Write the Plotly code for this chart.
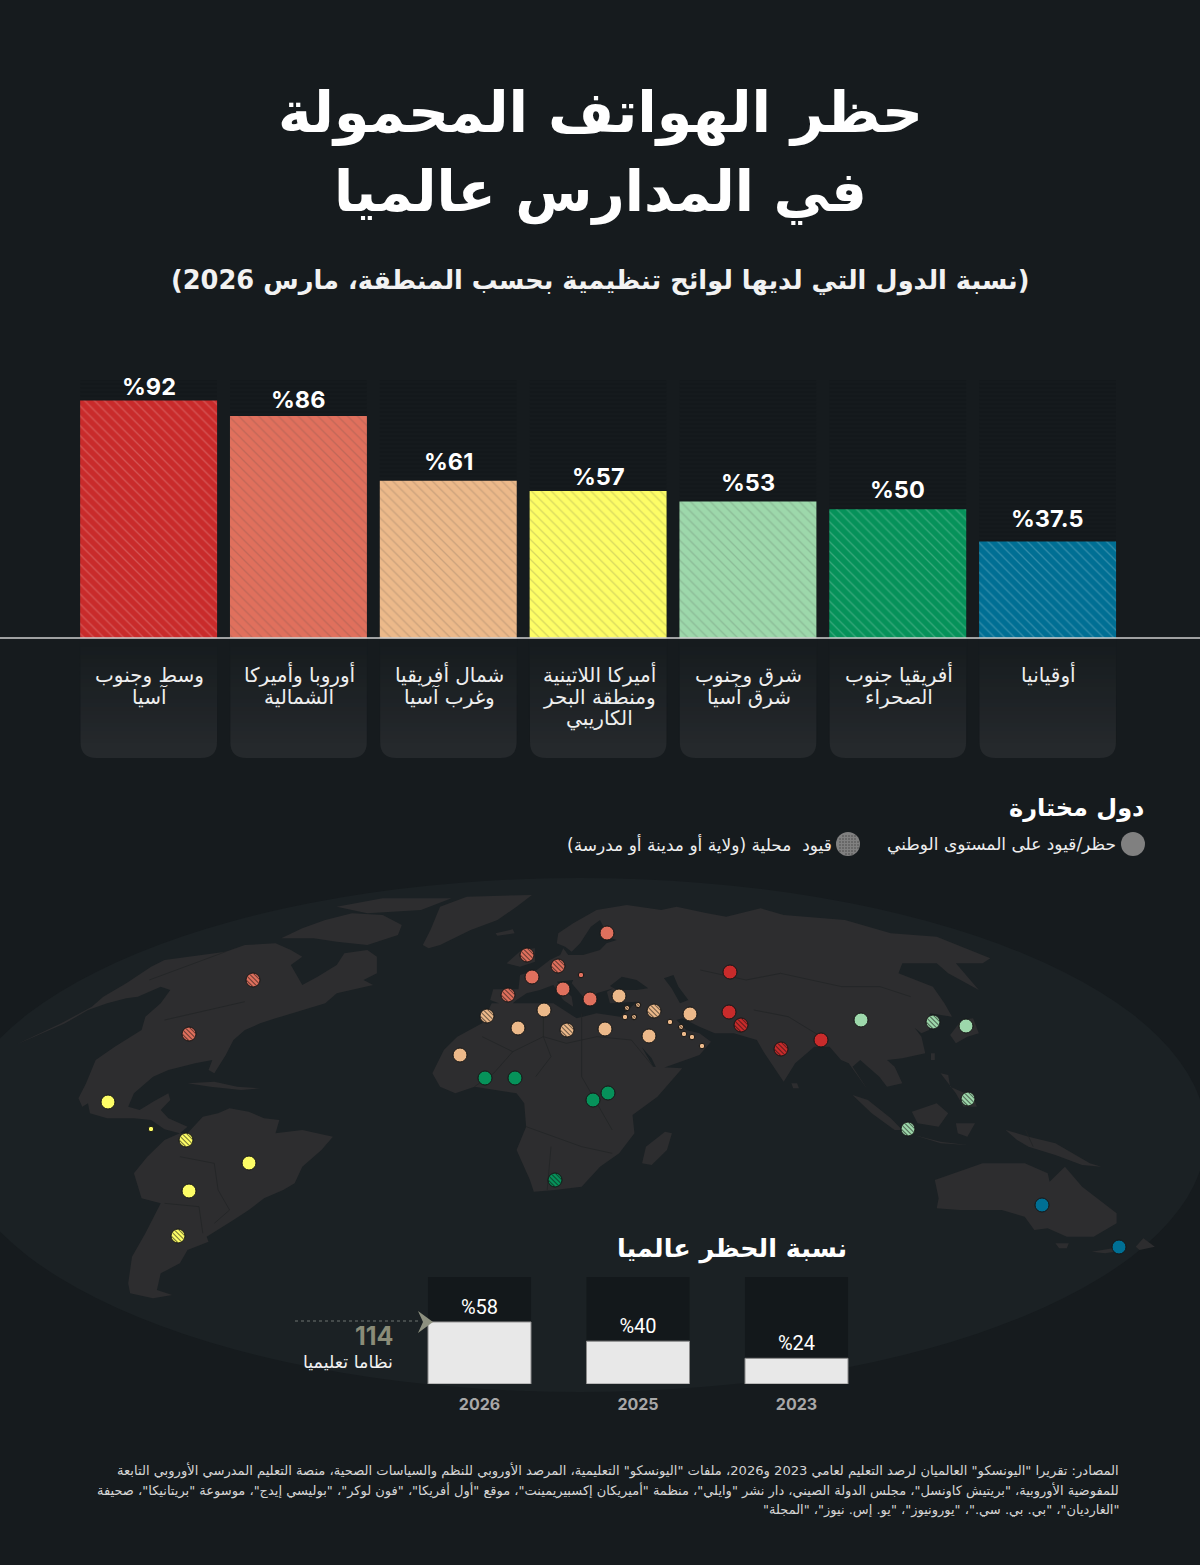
#!/usr/bin/env python3
"""School phone bans around the world: regional bars, dot map and global share."""

from __future__ import annotations

import numpy as np
import plotly.graph_objects as go

W, H = 1200, 1565
BG = "#161b1e"
MAP_BG = "#1b2124"
LAND = "#2d2d2f"
BORDER = "#222426"
TRACK = "#13181b"
AR_FONT = "DejaVu Sans"
NUM_FONT = "Inter"
RLM = "\u200f"

# regional bars
regions = [
    "وسط وجنوب<br>آسيا",
    "أوروبا وأميركا<br>الشمالية",
    "شمال أفريقيا<br>وغرب آسيا",
    "أميركا اللاتينية<br>ومنطقة البحر<br>الكاريبي",
    "شرق وجنوب<br>شرق آسيا",
    "أفريقيا جنوب<br>الصحراء",
    "أوقيانيا",
]
region_values = [92, 86, 61, 57, 53, 50, 37.5]
region_labels = ["%92", "%86", "%61", "%57", "%53", "%50", "%37.5"]
region_colors = ["#c92b2b", "#e0705d", "#ecb98a", "#fdfd66", "#9dd8ab", "#06925a", "#006f94"]

# global share
years = ["2026", "2025", "2023"]
year_values = [58, 40, 24]
year_labels = ["%58", "%40", "%24"]

# selected countries in page pixels
dot_region = [0, 0, 0, 0, 0,
              1, 1, 1, 1, 1, 1, 1, 1, 1, 1,
              2, 2, 2, 2, 2, 2, 2, 2, 2, 2,
              2, 2, 2, 2, 2, 2, 2, 2, 2,
              3, 3, 3, 3, 3, 3,
              4, 4, 4, 4, 4,
              5, 5, 5, 5, 5,
              6, 6]
dot_x = [730, 729, 821, 741, 781,
         607, 532, 563, 590, 581, 253, 189, 527, 558, 508,
         619, 544, 518, 460, 605, 649, 690, 487, 567, 654,
         627, 638, 625, 634, 670, 681, 684, 692, 702,
         108, 151, 249, 189, 186, 178,
         861, 966, 933, 968, 908,
         485, 515, 593, 608, 555,
         1042, 1119]
dot_y = [972, 1012, 1040, 1025, 1049,
         933, 977, 989, 999, 975, 980, 1034, 955, 966, 995,
         996, 1010, 1028, 1055, 1029, 1036, 1014, 1016, 1030, 1011,
         1008, 1005, 1017, 1017, 1022, 1027, 1034, 1037, 1046,
         1102, 1129, 1163, 1191, 1140, 1236,
         1020, 1026, 1022, 1099, 1129,
         1078, 1078, 1100, 1093, 1180,
         1205, 1247]
dot_local = [0, 0, 0, 1, 1,
             0, 0, 0, 0, 0, 1, 1, 1, 1, 1,
             0, 0, 0, 0, 0, 0, 0, 1, 1, 1,
             1, 1, 0, 1, 0, 1, 0, 0, 0,
             0, 0, 0, 0, 1, 1,
             0, 0, 1, 1, 1,
             0, 0, 0, 0, 1,
             0, 0]
dot_small = [0, 0, 0, 0, 0,
             0, 0, 0, 0, 1, 0, 0, 0, 0, 0,
             0, 0, 0, 0, 0, 0, 0, 0, 0, 0,
             1, 1, 1, 1, 1, 1, 1, 1, 1,
             0, 1, 0, 0, 0, 0,
             0, 0, 0, 0, 0,
             0, 0, 0, 0, 0,
             0, 0]

# rough land outlines, traced on a frame 1568 wide per 600 page pixels, y tripled
north_america = [(160, 460), (240, 410), (270, 380), (330, 340), (395, 290), (430, 270), (590, 245), (640, 225),
                 (720, 220), (760, 240), (790, 260), (760, 285), (790, 345), (830, 320), (880, 285), (900, 250),
                 (960, 240), (985, 260), (985, 310), (950, 330), (975, 345), (940, 355), (880, 370), (850, 400),
                 (790, 420), (720, 445), (680, 460), (640, 480), (610, 510), (590, 555), (560, 610), (545, 600),
                 (555, 570), (510, 580), (440, 600), (400, 620), (350, 670), (335, 710), (365, 720), (400, 695),
                 (440, 670), (445, 690), (420, 720), (440, 745), (490, 770), (470, 790), (430, 778), (395, 750),
                 (350, 745), (280, 745), (235, 730), (230, 700), (215, 710), (205, 685), (225, 640), (235, 610),
                 (250, 570), (300, 530), (370, 480), (380, 440), (420, 400), (445, 360), (420, 350), (360, 380),
                 (330, 385), (280, 400), (230, 420), (170, 460), (40, 525)]
arctic_islands = [(735, 205), (790, 175), (850, 150), (920, 130), (1000, 135), (1050, 165), (1040, 195), (960, 225),
                  (880, 215), (820, 205)]
arctic_north = [(880, 110), (1000, 85), (1180, 85), (1100, 120), (960, 130)]
greenland = [(1105, 225), (1125, 180), (1150, 110), (1220, 80), (1390, 75), (1350, 110), (1300, 150), (1230, 180),
             (1150, 225), (1120, 235)]
iceland = [(1295, 190), (1340, 178), (1345, 190), (1300, 197)]
cuba = [(490, 640), (560, 635), (620, 650), (680, 655), (630, 660), (550, 650)]
south_america = [(490, 790), (530, 740), (570, 730), (600, 715), (650, 725), (690, 745), (730, 750), (720, 790),
                 (790, 780), (870, 800), (840, 840), (790, 890), (770, 940), (740, 960), (690, 985), (650, 1020),
                 (610, 1050), (590, 1065), (540, 1100), (545, 1115), (490, 1140), (470, 1180), (420, 1210),
                 (410, 1260), (450, 1275), (400, 1285), (340, 1270), (335, 1240), (345, 1160), (380, 1090),
                 (420, 1000), (370, 985), (350, 910), (385, 860), (430, 810), (470, 790)]
africa = [(1130, 610), (1160, 540), (1195, 500), (1260, 460), (1285, 400), (1446, 400), (1507, 445), (1559, 430),
          (1620, 440), (1646, 470), (1707, 590), (1783, 595), (1718, 680), (1653, 735), (1658, 790), (1618, 850),
          (1568, 890), (1520, 950), (1450, 960), (1395, 965), (1385, 930), (1350, 840), (1375, 770), (1370, 700),
          (1350, 670), (1290, 660), (1240, 650), (1190, 670), (1150, 650)]
madagascar = [(1678, 880), (1688, 830), (1738, 785), (1756, 790), (1743, 840), (1703, 885)]
eurasia = [(1281, 390), (1289, 358), (1355, 358), (1359, 315), (1403, 300), (1437, 270), (1464, 255), (1472, 235),
           (1485, 255), (1524, 255), (1568, 240), (1585, 220), (1612, 210), (1585, 200), (1577, 170), (1568, 150),
           (1544, 170), (1516, 220), (1494, 245), (1477, 230), (1455, 220), (1459, 190), (1498, 160), (1559, 120),
           (1638, 105), (1728, 120), (1768, 110), (1848, 130), (1898, 140), (1988, 115), (2048, 135), (2208, 150),
           (2328, 190), (2448, 200), (2588, 265), (2568, 280), (2498, 280), (2558, 360), (2478, 310), (2448, 280),
           (2358, 280), (2348, 310), (2438, 350), (2468, 400), (2488, 440), (2430, 430), (2428, 480), (2408, 490),
           (2343, 430), (2368, 440), (2408, 500), (2418, 550), (2358, 565), (2318, 570), (2338, 590), (2358, 640),
           (2318, 650), (2298, 620), (2248, 570), (2228, 590), (2268, 660), (2218, 580), (2198, 570), (2168, 530),
           (2128, 530), (2078, 580), (2048, 635), (1998, 550), (1978, 510), (1918, 490), (1868, 490), (1828, 470),
           (1783, 445), (1768, 450), (1793, 480), (1828, 490), (1858, 515), (1828, 555), (1718, 600), (1703, 565),
           (1668, 520), (1628, 470), (1622, 440), (1664, 395), (1594, 400), (1586, 365), (1603, 355), (1559, 370),
           (1542, 405), (1516, 370), (1494, 340), (1498, 330), (1455, 335), (1494, 380), (1498, 410), (1472, 390),
           (1446, 345), (1411, 360), (1376, 370), (1350, 390), (1329, 410)]
britain = [(1324, 280), (1363, 240), (1398, 235), (1398, 275), (1359, 290)]
japan = [(2483, 495), (2513, 450), (2543, 445), (2558, 490), (2528, 500), (2498, 520)]
taiwan = [(2433, 550), (2443, 550), (2443, 570), (2433, 570)]
philippines = [(2458, 610), (2478, 615), (2483, 650), (2543, 680), (2553, 710), (2518, 710), (2498, 670)]
sri_lanka = [(2068, 640), (2083, 640), (2088, 655), (2073, 655)]
sumatra = [(2228, 675), (2268, 690), (2328, 745), (2358, 780), (2338, 780), (2278, 730)]
java = [(2388, 795), (2458, 815), (2528, 825), (2458, 820)]
borneo = [(2383, 725), (2448, 700), (2478, 730), (2453, 770), (2398, 760)]
sulawesi = [(2498, 760), (2548, 760), (2528, 800), (2503, 790)]
new_guinea = [(2628, 780), (2688, 800), (2758, 820), (2848, 880), (2878, 890), (2828, 885), (2758, 855), (2688, 830),
              (2658, 810)]
australia = [(2443, 930), (2518, 900), (2568, 880), (2678, 880), (2738, 910), (2743, 935), (2783, 890), (2828, 950),
             (2918, 1030), (2918, 1060), (2858, 1100), (2788, 1100), (2738, 1075), (2703, 1080), (2678, 1040),
             (2618, 1020), (2508, 1020), (2448, 1015), (2453, 985)]
tasmania = [(2758, 1120), (2793, 1120), (2788, 1135), (2768, 1135)]
nz_south = [(2853, 1145), (2908, 1135), (2943, 1140), (2888, 1150)]
nz_north = [(2968, 1130), (2988, 1105), (3018, 1130), (2978, 1140)]
land_shapes = [north_america, arctic_islands, arctic_north, greenland, iceland, cuba, south_america, africa,
               madagascar, eurasia, britain, japan, taiwan, philippines, sri_lanka, sumatra, java, borneo, sulawesi,
               new_guinea, australia, tasmania, nz_south, nz_north]

black_sea = [(1594, 348), (1625, 320), (1664, 330), (1694, 355), (1664, 360), (1612, 360)]
caspian = [(1735, 325), (1760, 315), (1773, 350), (1799, 390), (1777, 400), (1755, 355)]
sea_shapes = [black_sea, caspian]

# a few borders, same frame
borders = [
    [(430, 450), (640, 395)],
    [(390, 330), (590, 245)],
    [(1260, 500), (1340, 545), (1420, 500), (1480, 520), (1560, 500), (1650, 510), (1707, 590)],
    [(1420, 420), (1420, 500), (1440, 560), (1400, 620)],
    [(1340, 545), (1290, 610), (1240, 650)],
    [(1520, 430), (1520, 620), (1560, 700), (1600, 780)],
    [(1375, 770), (1450, 800), (1520, 830), (1600, 850)],
    [(1440, 830), (1430, 960)],
    [(470, 860), (560, 880), (570, 960), (600, 1020), (560, 1060)],
    [(430, 1000), (520, 1010), (530, 1090)],
    [(1830, 300), (1950, 330), (2040, 310), (2200, 350), (2300, 350), (2380, 380)],
    [(1970, 420), (2060, 440), (2160, 510)],
    [(2680, 780), (2700, 830)],
]


def to_page(points):
    return [p[0] * 600 / 1568 for p in points], [870 + p[1] / 3 for p in points]


def outline_trace(shapes, color):
    xs, ys = [], []
    for shape in shapes:
        px, py = to_page(shape)
        xs += px + [px[0], None]
        ys += py + [py[0], None]
    return go.Scatter(x=xs, y=ys, mode="lines", fill="toself", fillcolor=color, line=dict(width=0),
                      hoverinfo="skip", showlegend=False)


def hatch_lines(xs, ys, radius, gap=3.3):
    out_x, out_y = [], []
    for cx, cy in zip(xs, ys):
        for off in np.arange(-radius + gap / 2, radius, gap):
            half = np.sqrt(radius**2 - off**2)
            nx, ny = off * 0.707, -off * 0.707
            out_x += [cx + nx - half * 0.707, cx + nx + half * 0.707, None]
            out_y += [cy + ny - half * 0.707, cy + ny + half * 0.707, None]
    return out_x, out_y


def note(text, x, y, size, color="#ffffff", anchor="center", bold=False, family=AR_FONT, **kw):
    return dict(text=f"<b>{text}</b>" if bold else text, x=x, y=y, xref=kw.pop("xref", "x"), yref=kw.pop("yref", "y"),
                xanchor=anchor, yanchor="middle", showarrow=False, align=anchor,
                font=dict(family=family, size=size, color=color), **kw)


fig = go.Figure()

# page-sized axes hold the map and the free text
fig.add_trace(outline_trace(land_shapes, LAND))
fig.add_trace(outline_trace(sea_shapes, MAP_BG))
for line in borders:
    bx, by = to_page(line)
    fig.add_trace(go.Scatter(x=bx, y=by, mode="lines", line=dict(color=BORDER, width=0.8),
                             hoverinfo="skip", showlegend=False))

dot_x_arr = np.array(dot_x)
dot_y_arr = np.array(dot_y)
for region, color in enumerate(region_colors):
    keep = np.array(dot_region) == region
    sizes = [5.5 if s else 14 for s in np.array(dot_small)[keep]]
    fig.add_trace(go.Scatter(
        x=dot_x_arr[keep], y=dot_y_arr[keep], mode="markers",
        marker=dict(color=color, size=sizes, opacity=1, line=dict(color="#161616", width=1)),
        hoverinfo="skip", showlegend=False,
    ))
    for small, radius in ((0, 6.5), (1, 2.8)):
        pick = keep & (np.array(dot_local) == 1) & (np.array(dot_small) == small)
        hx, hy = hatch_lines(dot_x_arr[pick], dot_y_arr[pick], radius, 3.3 if not small else 2.0)
        fig.add_trace(go.Scatter(x=hx, y=hy, mode="lines", line=dict(color="rgba(20,20,20,0.55)", width=1.1),
                                 hoverinfo="skip", showlegend=False))

# legend dots
fig.add_trace(go.Scatter(x=[1133, 848], y=[844, 844], mode="markers",
                         marker=dict(color="#808080", size=24, opacity=1), hoverinfo="skip", showlegend=False))
gx, gy = np.meshgrid(np.arange(-11, 12, 3), np.arange(-11, 12, 3))
inside = gx**2 + gy**2 < 120
fig.add_trace(go.Scatter(x=848 + gx[inside], y=844 + gy[inside], mode="markers",
                         marker=dict(color="#4a4a4a", size=1.6, opacity=1), hoverinfo="skip", showlegend=False))

# regional bars
fig.add_trace(go.Bar(
    x=regions, y=[100] * len(regions), xaxis="x2", yaxis="y2",
    marker=dict(color=TRACK, line=dict(width=0), pattern=dict(shape="-", size=4, solidity=0.25, fgcolor="#191e21")),
    hoverinfo="skip", showlegend=False,
))
fig.add_trace(go.Bar(
    x=regions, y=region_values, xaxis="x2", yaxis="y2",
    marker=dict(color=region_colors, line=dict(width=0),
                pattern=dict(shape="\\", size=7, solidity=0.18, fgcolor="#000000", fgopacity=0.2)),
    hoverinfo="skip", showlegend=False,
))

# global share bars
fig.add_trace(go.Bar(
    x=years, y=[100] * len(years), xaxis="x3", yaxis="y3", width=0.65,
    marker=dict(color=TRACK, line=dict(width=0)), hoverinfo="skip", showlegend=False,
))
fig.add_trace(go.Bar(
    x=years, y=year_values, xaxis="x3", yaxis="y3", width=0.65,
    marker=dict(color="#e8e8e8", line=dict(color="#8a8a8a", width=1)),
    text=year_labels, textposition="outside", cliponaxis=False,
    textfont=dict(family="Roboto", size=20, color="#ffffff"),
    hoverinfo="skip", showlegend=False,
))

# 114 pointer
fig.add_trace(go.Scatter(x=[295, 420], y=[1321, 1321], mode="lines",
                         line=dict(color="#6f7570", width=1, dash="dot"), hoverinfo="skip", showlegend=False))

shapes = [
    dict(type="circle", xref="x", yref="y", x0=-46, x1=1206, y0=878, y1=1392,
         fillcolor=MAP_BG, line=dict(width=0), layer="below"),
    dict(type="path", xref="x", yref="y", path="M 418 1311 L 433 1322 L 418 1333 L 423 1322 Z",
         fillcolor="#8e9180", line=dict(width=0), layer="above"),
    dict(type="line", xref="paper", yref="y", x0=0, x1=1, y0=638, y1=638,
         line=dict(color="#cfcfcf", width=1.5), layer="above"),
]
for i in range(len(regions)):
    left = 80.5 + i * 149.83
    right = left + 136.5
    shapes.append(dict(
        type="path", xref="x", yref="y",
        path=f"M {left} 640 L {right} 640 L {right} 742 Q {right} 758 {right - 16} 758 "
             f"L {left + 16} 758 Q {left} 758 {left} 742 Z",
        fillcolor="#25292c", line=dict(width=0), layer="below",
    ))
    for step in range(0, 104, 4):
        shapes.append(dict(
            type="rect", xref="x", yref="y", x0=left - 1, x1=right + 1, y0=639 + step, y1=643 + step,
            fillcolor=BG, opacity=1 - step / 104, line=dict(width=0), layer="below",
        ))

annotations = [
    note("حظر الهواتف المحمولة", 600, 112, 57, bold=True),
    note("في المدارس عالميا", 600, 192, 56, bold=True),
    note(f"{RLM}(نسبة الدول التي لديها لوائح تنظيمية بحسب المنطقة، مارس 2026){RLM}", 600, 280, 25.7,
         color="#f2f2f2", bold=True),
    note("دول مختارة", 1146, 808, 24, bold=True, anchor="right"),
    note("حظر/قيود على المستوى الوطني", 1118, 844, 17, color="#eeeeee", anchor="right"),
    note(f"{RLM}قيود  محلية (ولاية أو مدينة أو مدرسة){RLM}", 834, 844, 17, color="#eeeeee", anchor="right"),
    note("نسبة الحظر عالميا", 849, 1248, 25.5, bold=True, anchor="right"),
    note("114", 395, 1336, 25, color="#8a8c78", anchor="right", bold=True, family=NUM_FONT),
    note("نظاما تعليميا", 395, 1362, 17.5, color="#f0f0f0", anchor="right"),
    note(f"{RLM}المصادر: تقريرا \"اليونسكو\" العالميان لرصد التعليم لعامي 2023 و2026، ملفات \"اليونسكو\" التعليمية، "
         f"المرصد الأوروبي للنظم والسياسات الصحية، منصة التعليم المدرسي الأوروبي التابعة{RLM}",
         1121, 1470, 13.1, color="#d5d5d5", anchor="right"),
    note(f"{RLM}للمفوضية الأوروبية، \"بريتيش كاونسل\"، مجلس الدولة الصيني، دار نشر \"وايلي\"، منظمة "
         f"\"أميريكان إكسبيريمينت\"، موقع \"أول أفريكا\"، \"فون لوكر\"، \"بوليسي إيدج\"، موسوعة "
         f"\"بريتانيكا\"، صحيفة{RLM}",
         1121, 1490, 13, color="#d5d5d5", anchor="right"),
    note(f"{RLM}\"الغارديان\"، \"بي. بي. سي.\"، \"يورونيوز\"، \"يو. إس. نيوز\"، \"المجلة\"{RLM}",
         1121, 1510, 13, color="#d5d5d5", anchor="right"),
]

# value labels sit at uneven distances above the bars in the source
label_lift = [14, 17, 19, 15, 19, 20, 23]
for region, value, label, lift in zip(regions, region_values, region_labels, label_lift):
    annotations.append(note(label, region, value, 23.5, xref="x2", yref="y2", yshift=lift, bold=True,
                            family=NUM_FONT))
# region names, one note per line so the line spacing can stay tight
for region in regions:
    for n, part in enumerate(region.split("<br>")):
        annotations.append(note(part, region, 0, 20, color="#eeeeee", xref="x2", yref="y2",
                                yshift=-(36 + 22 * n), xshift=1))

hidden = dict(visible=False, fixedrange=True)
fig.update_layout(
    width=W,
    height=H,
    margin=dict(l=0, r=0, t=0, b=0),
    paper_bgcolor=BG,
    plot_bgcolor="rgba(0,0,0,0)",
    barmode="overlay",
    bargap=0.086,
    showlegend=False,
    font=dict(family=AR_FONT, color="#ffffff"),
    xaxis=dict(range=[0, W], domain=[0, 1], **hidden),
    yaxis=dict(range=[H, 0], domain=[0, 1], **hidden),
    xaxis2=dict(
        domain=[73.7 / W, 1122.5 / W], anchor="y2", type="category", categoryorder="array", categoryarray=regions,
        range=[-0.5, 6.5], showline=False, showgrid=False, zeroline=False, showticklabels=False, fixedrange=True,
    ),
    yaxis2=dict(domain=[(H - 638.5) / H, (H - 379.8) / H], anchor="x2", range=[0, 100], **hidden),
    xaxis3=dict(
        domain=[400.25 / W, 875.75 / W], anchor="y3", type="category", categoryorder="array", categoryarray=years,
        range=[-0.5, 2.5], showline=False, showgrid=False, zeroline=False, ticks="outside", ticklen=6,
        tickcolor="rgba(0,0,0,0)", tickfont=dict(family=NUM_FONT, size=16, color="#a8a8a8", weight=700),
        fixedrange=True,
    ),
    yaxis3=dict(domain=[(H - 1384) / H, (H - 1277) / H], anchor="x3", range=[0, 100], **hidden),
    shapes=shapes,
    annotations=annotations,
)

fig.write_html("out.html", config=dict(displayModeBar=False),
               post_script="document.body.style.margin='0';document.body.style.background='#161b1e';")
